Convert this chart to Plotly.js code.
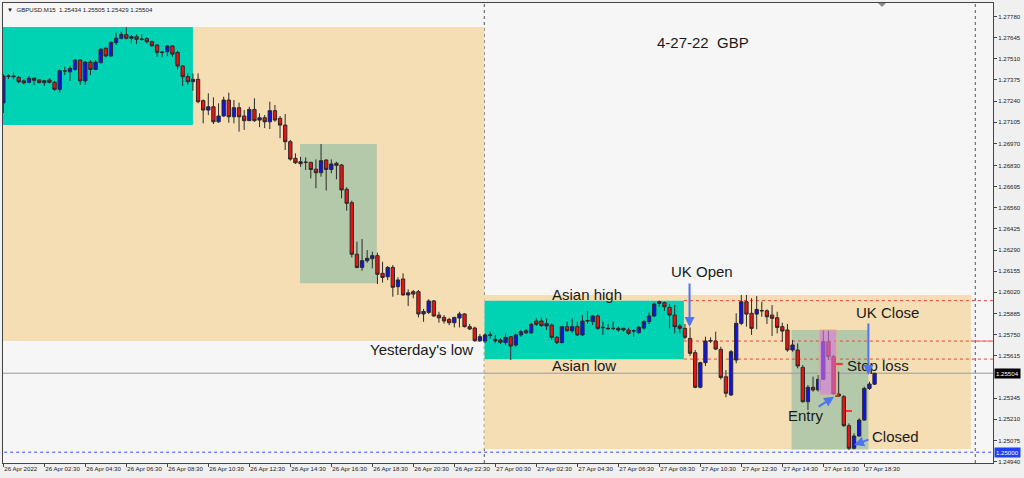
<!DOCTYPE html>
<html><head><meta charset="utf-8">
<script src="https://cdn.plot.ly/plotly-3.0.1.min.js"></script>
<style>html,body{margin:0;padding:0;background:#F0F0F0;}#chart{width:1024px;height:478px;}</style>
</head><body><div id="chart"></div>
<script>
// GBPUSD M15 candles: 26 Apr 2022 00:30 ... 27 Apr 2022 19:00 (bar index = position in arrays)
const open = [
1.27228,1.27397,1.27400,1.27391,1.27369,1.27360,1.27386,1.27375,1.27358,1.27375,
1.27360,1.27315,1.27434,1.27427,1.27442,1.27502,1.27369,1.27489,1.27442,1.27485,
1.27577,1.27528,1.27613,1.27641,1.27664,1.27641,1.27651,1.27636,1.27638,1.27619,
1.27598,1.27553,1.27555,1.27592,1.27551,1.27464,1.27396,1.27364,1.27379,1.27243,
1.27183,1.27204,1.27108,1.27145,1.27247,1.27140,1.27198,1.27145,1.27115,1.27187,
1.27119,1.27134,1.27108,1.27179,1.27130,1.27087,1.26981,1.26875,1.26841,1.26851,
1.26849,1.26806,1.26783,1.26864,1.26804,1.26843,1.26832,1.26677,1.26592,1.26263,
1.26179,1.26222,1.26235,1.26254,1.26141,1.26119,1.26179,1.26056,1.26105,1.26003,
1.26024,1.26024,1.25882,1.25892,1.25965,1.25875,1.25860,1.25847,1.25826,1.25856,
1.25882,1.25801,1.25792,1.25711,1.25709,1.25748,1.25720,1.25716,1.25699,1.25737,
1.25684,1.25748,1.25775,1.25762,1.25837,1.25837,1.25805,1.25811,1.25733,1.25699,
1.25801,1.25775,1.25801,1.25748,1.25837,1.25833,1.25869,1.25794,1.25790,1.25788,
1.25790,1.25790,1.25780,1.25773,1.25762,1.25792,1.25833,1.25869,1.25960,1.25954,
1.25924,1.25875,1.25805,1.25790,1.25726,1.25635,1.25414,1.25571,1.25709,1.25709,
1.25656,1.25481,1.25365,1.25588,1.25822,1.25960,1.25886,1.25881,1.25904,1.25902,
1.25875,1.25858,1.25801,1.25780,1.25652,1.25652,1.25541,1.25322,1.25414,1.25397,
1.25465,1.25705,1.25609,1.25371,1.25354,1.25169,1.25025,1.25103,1.25205,1.25407,1.25434];
const high = [
1.27412,1.27411,1.27421,1.27400,1.27379,1.27400,1.27391,1.27381,1.27375,1.27386,
1.27369,1.27442,1.27459,1.27464,1.27506,1.27506,1.27496,1.27502,1.27502,1.27577,
1.27583,1.27619,1.27677,1.27683,1.27711,1.27662,1.27666,1.27668,1.27647,1.27625,
1.27604,1.27555,1.27598,1.27598,1.27562,1.27470,1.27417,1.27417,1.27417,1.27251,
1.27290,1.27264,1.27226,1.27268,1.27294,1.27247,1.27230,1.27183,1.27204,1.27258,
1.27162,1.27151,1.27236,1.27215,1.27145,1.27158,1.26992,1.26907,1.26885,1.26881,
1.26853,1.26868,1.26966,1.26868,1.26868,1.26853,1.26839,1.26690,1.26605,1.26343,
1.26360,1.26290,1.26279,1.26273,1.26215,1.26188,1.26194,1.26116,1.26141,1.26039,
1.26035,1.26035,1.25914,1.25975,1.25971,1.25896,1.25875,1.25858,1.25864,1.25896,
1.25886,1.25818,1.25801,1.25754,1.25758,1.25769,1.25748,1.25726,1.25758,1.25741,
1.25758,1.25780,1.25786,1.25826,1.25854,1.25860,1.25854,1.25822,1.25741,1.25805,
1.25833,1.25854,1.25833,1.25875,1.25902,1.25875,1.25881,1.25833,1.25818,1.25833,
1.25801,1.25794,1.25794,1.25784,1.25805,1.25843,1.25890,1.25954,1.25967,1.25960,
1.25945,1.25939,1.25818,1.25818,1.25796,1.25652,1.25577,1.25737,1.25733,1.25769,
1.25673,1.25524,1.25652,1.25886,1.26003,1.26003,1.25982,1.25996,1.25960,1.25911,
1.25939,1.25896,1.25826,1.25818,1.25716,1.25694,1.25556,1.25429,1.25482,1.25492,
1.25780,1.25780,1.25620,1.25514,1.25365,1.25184,1.25120,1.25216,1.25418,1.25450,1.25505];
const low = [
1.27164,1.27381,1.27379,1.27354,1.27347,1.27354,1.27343,1.27354,1.27337,1.27354,
1.27306,1.27294,1.27406,1.27369,1.27434,1.27343,1.27343,1.27406,1.27438,1.27481,
1.27519,1.27524,1.27598,1.27634,1.27634,1.27608,1.27604,1.27625,1.27608,1.27587,
1.27523,1.27523,1.27528,1.27523,1.27438,1.27337,1.27343,1.27306,1.27226,1.27098,
1.27151,1.27094,1.27102,1.27140,1.27102,1.27098,1.27045,1.27056,1.27113,1.27108,
1.27074,1.27068,1.27062,1.27108,1.27003,1.26928,1.26860,1.26839,1.26821,1.26800,
1.26747,1.26684,1.26758,1.26669,1.26779,1.26741,1.26620,1.26541,1.26243,1.26173,
1.26158,1.26209,1.26173,1.26073,1.26082,1.26098,1.25992,1.26003,1.26000,1.25932,
1.25982,1.25860,1.25832,1.25882,1.25864,1.25826,1.25820,1.25811,1.25796,1.25796,
1.25796,1.25780,1.25705,1.25705,1.25696,1.25726,1.25696,1.25690,1.25682,1.25588,
1.25673,1.25737,1.25754,1.25754,1.25805,1.25801,1.25780,1.25716,1.25690,1.25695,
1.25769,1.25762,1.25741,1.25741,1.25818,1.25811,1.25780,1.25748,1.25780,1.25780,
1.25769,1.25769,1.25748,1.25737,1.25758,1.25782,1.25818,1.25864,1.25928,1.25902,
1.25790,1.25758,1.25758,1.25720,1.25614,1.25408,1.25408,1.25550,1.25696,1.25652,
1.25464,1.25350,1.25358,1.25567,1.25811,1.25801,1.25748,1.25784,1.25864,1.25818,
1.25741,1.25758,1.25705,1.25641,1.25641,1.25535,1.25316,1.25269,1.25386,1.25386,
1.25461,1.25588,1.25365,1.25354,1.25162,1.25014,1.25018,1.25099,1.25201,1.25397,1.25429];
const close = [
1.27400,1.27400,1.27396,1.27364,1.27356,1.27386,1.27373,1.27358,1.27370,1.27360,
1.27315,1.27434,1.27432,1.27449,1.27502,1.27369,1.27489,1.27442,1.27489,1.27571,
1.27528,1.27615,1.27641,1.27666,1.27641,1.27651,1.27634,1.27634,1.27619,1.27593,
1.27551,1.27551,1.27592,1.27540,1.27464,1.27396,1.27364,1.27379,1.27236,1.27183,
1.27204,1.27108,1.27145,1.27247,1.27140,1.27198,1.27140,1.27115,1.27187,1.27115,
1.27134,1.27108,1.27179,1.27119,1.27087,1.26981,1.26870,1.26847,1.26853,1.26849,
1.26804,1.26783,1.26860,1.26804,1.26839,1.26830,1.26673,1.26588,1.26263,1.26179,
1.26222,1.26237,1.26254,1.26135,1.26115,1.26179,1.26052,1.26099,1.26003,1.26017,
1.26009,1.25882,1.25898,1.25965,1.25869,1.25857,1.25837,1.25826,1.25860,1.25882,
1.25801,1.25786,1.25711,1.25737,1.25748,1.25746,1.25711,1.25701,1.25733,1.25677,
1.25748,1.25769,1.25762,1.25816,1.25816,1.25807,1.25820,1.25733,1.25699,1.25801,
1.25775,1.25801,1.25748,1.25837,1.25840,1.25869,1.25790,1.25796,1.25788,1.25790,
1.25780,1.25780,1.25758,1.25775,1.25796,1.25833,1.25869,1.25945,1.25950,1.25928,
1.25875,1.25801,1.25790,1.25733,1.25631,1.25414,1.25571,1.25709,1.25712,1.25658,
1.25477,1.25376,1.25641,1.25822,1.25960,1.25881,1.25790,1.25911,1.25902,1.25864,
1.25854,1.25796,1.25773,1.25652,1.25684,1.25550,1.25322,1.25414,1.25397,1.25465,
1.25705,1.25609,1.25371,1.25358,1.25169,1.25025,1.25103,1.25205,1.25407,1.25435,1.25504];

// time-axis labels (bar index, text)
const xTickIdx = [0,8,16,24,32,40,48,56,64,72,80,88,96,104,112,120,128,136,144,152,160,168];
const xTickText = ["26 Apr 2022","26 Apr 02:30","26 Apr 04:30","26 Apr 06:30","26 Apr 08:30","26 Apr 10:30",
  "26 Apr 12:30","26 Apr 14:30","26 Apr 16:30","26 Apr 18:30","26 Apr 20:30","26 Apr 22:30",
  "27 Apr 00:30","27 Apr 02:30","27 Apr 04:30","27 Apr 06:30","27 Apr 08:30","27 Apr 10:30",
  "27 Apr 12:30","27 Apr 14:30","27 Apr 16:30","27 Apr 18:30"];
// price-axis labels
const yTickText = ["1.27780","1.27645","1.27510","1.27375","1.27240","1.27105","1.26970","1.26830",
  "1.26695","1.26560","1.26425","1.26290","1.26155","1.26020","1.25885","1.25750","1.25615",
  "1.25345","1.25210","1.25075","1.24940"];

// session / trade zones: [x0 bar, x1 bar, low price, high price]
const zoneTan1   = [-1, 93.85, 1.25709, 1.27713];
const zoneTeal1  = [-1, 37.0, 1.27087, 1.27713];
const zoneGreen1 = [57.9, 72.9, 1.26078, 1.26966];
const zoneTan2   = [93.85, 188.8, 1.25020, 1.26003];
const zoneTeal2  = [93.9, 132.8, 1.25593, 1.25967];
const zoneGreen2 = [153.8, 168.8, 1.25017, 1.25780];
const zonePink   = [159.2, 162.6, 1.25365, 1.25780];
// levels
const asianHigh = 1.25967, asianLow = 1.25594, yesterdayLow = 1.25709;
const roundLevel = 1.25000, stopLoss = 1.25563, exitLevel = 1.25263, entryPrice = 1.25365;
const daySeparators = [93.85, 189.65];

const TF = "'Liberation Sans',Arial,sans-serif";
const AF = "'Liberation Sans',Arial,sans-serif";
const TS = 6.1;
const idx = open.map((_, k) => k);
const last = close[close.length - 1];

const candle = {
  type: 'candlestick', x: idx, open: open, high: high, low: low, close: close,
  increasing: {line: {color: '#2a2a2a', width: 1}, fillcolor: '#1010F0'},
  decreasing: {line: {color: '#2a2a2a', width: 1}, fillcolor: '#F01010'},
  whiskerwidth: 0, hoverinfo: 'skip', showlegend: false
};
const entryMark = {type:'scatter', mode:'markers', x:[162.7], y:[entryPrice],
  marker:{symbol:'square', size:4, color:'#9B3A1A'}, hoverinfo:'skip', showlegend:false};

function rect(z, color, layer, extra) {
  return Object.assign({type:'rect', xref:'x', yref:'y', x0:z[0], x1:z[1], y0:z[2], y1:z[3],
    fillcolor: color, line:{width:0}, layer: layer}, extra || {});
}
function hline(y, x0, x1, color, dash, width) {
  return {type:'line', xref:'x', yref:'y', x0:x0, x1:x1, y0:y, y1:y, line:{color:color, dash:dash, width:width||1}, layer:'below'};
}
const XMAX = 193.11;
const shapes = [
  hline(yesterdayLow, 92.5, XMAX, '#F04040', 'dot'),
  rect(zoneTan1, '#F5DEB3', 'below'),
  rect(zoneTeal1, '#00D2B4', 'below'),
  rect(zoneGreen1, '#B4C8AA', 'below'),
  rect(zoneTan2, '#F5DEB3', 'below'),
  rect(zoneTeal2, '#00D2B4', 'below'),
  rect(zoneGreen2, '#B4C8AA', 'below'),
  hline(yesterdayLow, zoneTeal2[1], XMAX, '#F04040', 'dot'),
  hline(asianHigh, zoneTeal2[1], XMAX, '#F04040', 'dot'),
  hline(asianLow, zoneTeal2[1], XMAX, '#F04040', 'dot'),
  hline(last, -1, XMAX, '#9A9A9A', 'solid'),
  hline(roundLevel, -1, XMAX, '#3050FF', 'dot'),
  {type:'line', xref:'x', yref:'paper', x0:daySeparators[0], x1:daySeparators[0], y0:0, y1:1, line:{color:'#555', dash:'dot', width:1}, layer:'below'},
  {type:'line', xref:'x', yref:'paper', x0:daySeparators[1], x1:daySeparators[1], y0:0, y1:1, line:{color:'#555', dash:'dot', width:1}, layer:'below'},
  rect(zonePink, 'rgba(222,118,222,0.6)', 'above', {line:{color:'#D8B88A', width:1}}),
  {type:'line', xref:'x', yref:'y', x0:162.5, x1:163.8, y0:stopLoss, y1:stopLoss, line:{color:'#FF3030', width:2}, layer:'above'},
  {type:'line', xref:'x', yref:'y', x0:164.4, x1:165.6, y0:exitLevel, y1:exitLevel, line:{color:'#FF3030', width:2}, layer:'above'},
  {type:'path', xref:'paper', yref:'paper', path:'M 0.8838 1 L 0.8919 1 L 0.8879 0.9913 Z', fillcolor:'#8A8A8A', line:{width:0}}
];

const AC = '#4F74F0';
function txt(x, y, t, anchor) {
  return {x:x, y:y, xref:'x', yref:'y', text:t, showarrow:false, xanchor:anchor||'center', yanchor:'middle',
    font:{family:AF, size:15, color:'#1a1a1a'}};
}
function arrow(x, y, ax, ay, head) {
  return {x:x, y:y, ax:ax, ay:ay, xref:'x', yref:'y', axref:'x', ayref:'y', text:'', showarrow:true,
    arrowhead:head, arrowsize:1, arrowwidth:2, arrowcolor:AC, standoff:0, startstandoff:0};
}
const annotations = [
  txt(136.5, 1.27617, '4-27-22  GBP'),
  txt(113.9, 1.26009, 'Asian high'),
  txt(113.3, 1.25550, 'Asian low'),
  txt(92.0, 1.25658, "Yesterday's low", 'right'),
  txt(136.4, 1.26150, 'UK Open'),
  txt(172.6, 1.25890, 'UK Close'),
  txt(170.6, 1.25550, 'Stop loss'),
  txt(156.6, 1.25231, 'Entry'),
  txt(174.0, 1.25103, 'Closed'),
  arrow(133.9, 1.25799, 133.9, 1.26086, 2),
  arrow(168.8, 1.25493, 168.8, 1.25831, 2),
  arrow(162.1, 1.25354, 158.8, 1.25284, 2),
  arrow(166.0, 1.25046, 169.1, 1.25084, 2),
  {xref:'paper', yref:'y', x:1, y:last, xanchor:'left', yanchor:'middle', xshift:1, text:last.toFixed(5),
    showarrow:false, bgcolor:'#000000', borderpad:1, font:{family:TF, size:TS, color:'#FFFFFF'}},
  {xref:'paper', yref:'y', x:1, y:roundLevel, xanchor:'left', yanchor:'middle', xshift:1, text:roundLevel.toFixed(5),
    showarrow:false, bgcolor:'#2040FF', borderpad:1, font:{family:TF, size:TS, color:'#FFFFFF'}},
  {xref:'paper', yref:'paper', x:0, y:1, xanchor:'left', yanchor:'top', xshift:2, yshift:-1,
    text:'\u25BC  GBPUSD.M15  ' + [open[170], high[170], low[170], close[170]].map(v => v.toFixed(5)).join(' '),
    showarrow:false, font:{family:TF, size:TS, color:'#222'}}
];

const layout = {
  width:1024, height:478,
  margin:{l:3, r:31, t:3, b:15},
  paper_bgcolor:'#F0F0F0', plot_bgcolor:'#F6F6F6',
  showlegend:false, boxgap:0.35, boxgroupgap:0,
  xaxis:{range:[-0.06, XMAX], tickmode:'array', tickvals:xTickIdx, ticktext:xTickText,
    ticks:'outside', ticklen:3, tickcolor:'#444', ticklabelposition:'outside right', tickangle:0,
    tickfont:{family:TF, size:TS, color:'#222'}, showgrid:false, zeroline:false,
    showline:true, linecolor:'#444', linewidth:1, mirror:true,
    rangeslider:{visible:false}, fixedrange:true},
  yaxis:{side:'right', range:[1.24931, 1.27866], tickmode:'array',
    tickvals:yTickText.map(Number), ticktext:yTickText,
    ticks:'outside', ticklen:3, tickcolor:'#444', tickfont:{family:TF, size:TS, color:'#222'},
    showgrid:false, zeroline:false, showline:true, linecolor:'#444', linewidth:1, mirror:true, fixedrange:true},
  shapes:shapes, annotations:annotations
};
Plotly.newPlot('chart', [candle, entryMark], layout, {staticPlot:true, displayModeBar:false});
</script></body></html>
